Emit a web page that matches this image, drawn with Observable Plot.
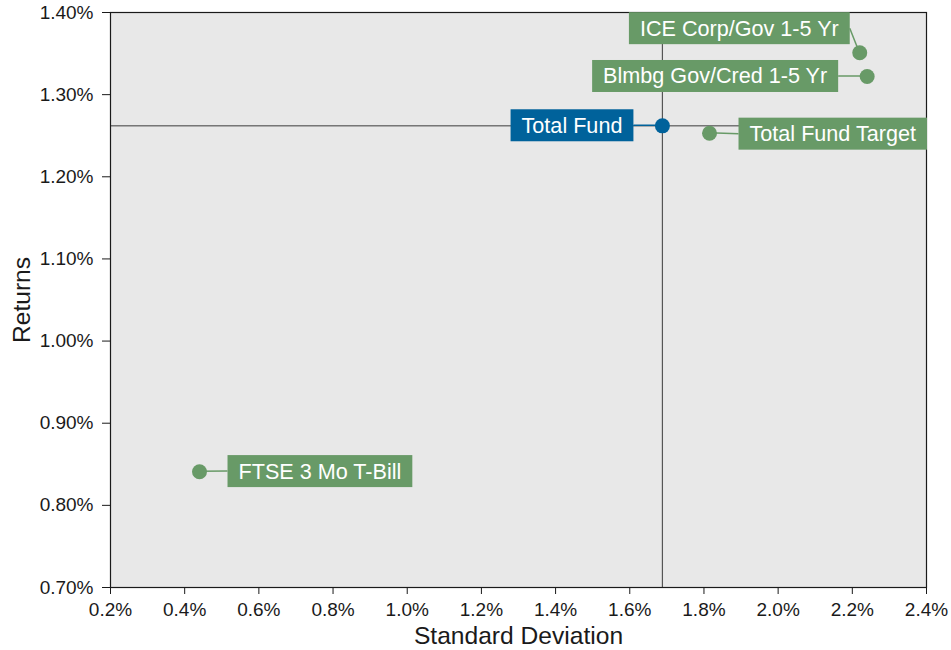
<!DOCTYPE html>
<html><head><meta charset="utf-8">
<script src="https://cdn.jsdelivr.net/npm/d3@7"></script>
<script src="https://cdn.jsdelivr.net/npm/@observablehq/plot@0.6"></script>
<style>body{margin:0;background:#fff}</style>
</head><body><div id="chart"></div>
<script>
// ---- data ----
const names = ["ICE Corp/Gov 1-5 Yr", "Blmbg Gov/Cred 1-5 Yr", "Total Fund", "Total Fund Target", "FTSE 3 Mo T-Bill"];
const stdDev = [2.22, 2.24, 1.688, 1.815, 0.44];       // %
const returns = [1.351, 1.322, 1.262, 1.253, 0.841];   // %
const xTicks = [0.2, 0.4, 0.6, 0.8, 1.0, 1.2, 1.4, 1.6, 1.8, 2.0, 2.2, 2.4];
const yTicks = [0.70, 0.80, 0.90, 1.00, 1.10, 1.20, 1.30, 1.40];
const xTitle = "Standard Deviation";
const yTitle = "Returns";
const highlight = "Total Fund";

// ---- style / layout ----
const GREEN = "#689a67", BLUE = "#00629b";
const FONT = "Liberation Sans, Arial, sans-serif";
const placement = {
  "ICE Corp/Gov 1-5 Yr":   {side: "left",  dx: -21, dy: -24},
  "Blmbg Gov/Cred 1-5 Yr": {side: "left",  dx: -40, dy: 0},
  "Total Fund":            {side: "left",  dx: -40, dy: 0},
  "Total Fund Target":     {side: "right", dx: 40,  dy: 1},
  "FTSE 3 Mo T-Bill":      {side: "right", dx: 39,  dy: 0}
};
const PAD = 11, BOXH = 32;

const data = names.map((name, i) => ({name, sd: stdDev[i], ret: returns[i]}));
const hl = data.find(d => d.name === highlight);
const colorOf = name => name === highlight ? BLUE : GREEN;

const labelMarks = names.map(name => {
  const p = placement[name];
  return Plot.text(data.filter(d => d.name === name), {
    x: "sd", y: "ret", text: "name",
    dx: p.dx, dy: p.dy,
    textAnchor: p.side === "left" ? "end" : "start",
    lineAnchor: "middle",
    fill: "white", fontSize: 21.6, fontFamily: FONT
  });
});

const chart = Plot.plot({
  width: 951, height: 650,
  marginLeft: 110, marginRight: 25, marginTop: 12, marginBottom: 63,
  style: {fontFamily: FONT, fontSize: "19px", color: "#1a1a1a", background: "#fff"},
  x: {domain: [0.2, 2.4], ticks: xTicks, tickFormat: d => d.toFixed(1) + "%", label: null, tickSize: 7, tickPadding: 8},
  y: {domain: [0.70, 1.40], ticks: yTicks, tickFormat: d => d.toFixed(2) + "%", label: null, tickSize: 8, tickPadding: 9},
  marks: [
    Plot.frame({fill: "#e8e8e8"}),
    Plot.ruleY([hl.ret], {stroke: "#3a3a3a", strokeWidth: 1}),
    Plot.ruleX([hl.sd], {stroke: "#555", strokeWidth: 1.2}),
    Plot.frame({stroke: "#1a1a1a", strokeWidth: 1.2}),
    Plot.text([xTitle], {text: d => d, frameAnchor: "bottom", dy: 49, textAnchor: "middle", lineAnchor: "middle", fontSize: 24.6, fill: "#1a1a1a"}),
    Plot.text([yTitle], {text: d => d, frameAnchor: "left", dx: -88, rotate: -90, textAnchor: "middle", lineAnchor: "middle", fontSize: 24.6, fill: "#1a1a1a"}),
    ...labelMarks,
    Plot.dot(data, {x: "sd", y: "ret", r: 7.5, fill: d => colorOf(d.name), stroke: "none"})
  ]
});
document.getElementById("chart").append(chart);

// ---- label boxes & connectors (positions taken from the chart's scales) ----
const xs = chart.scale("x"), ys = chart.scale("y");
const svgRect = chart.getBoundingClientRect();
const texts = Array.from(chart.querySelectorAll("text")).filter(t => t.textContent in placement);
if (texts.length) {
  const ns = "http://www.w3.org/2000/svg";
  const g = document.createElementNS(ns, "g");
  const firstMark = texts[0].parentNode;
  firstMark.parentNode.insertBefore(g, firstMark);
  texts.forEach(t => {
    const name = t.textContent;
    const d = data.find(e => e.name === name);
    const p = placement[name];
    const r = t.getBoundingClientRect();
    const bx = r.left - svgRect.left - PAD;
    const bw = r.width + 2 * PAD;
    const cy = r.top - svgRect.top + r.height / 2;
    const px = xs.apply(d.sd), py = ys.apply(d.ret);
    const ex = p.side === "left" ? bx + bw : bx;
    const line = document.createElementNS(ns, "line");
    line.setAttribute("x1", px); line.setAttribute("y1", py);
    line.setAttribute("x2", ex); line.setAttribute("y2", cy);
    line.setAttribute("stroke", colorOf(name)); line.setAttribute("stroke-width", 1.5);
    g.append(line);
    const rect = document.createElementNS(ns, "rect");
    rect.setAttribute("x", bx); rect.setAttribute("y", cy - BOXH / 2);
    rect.setAttribute("width", bw); rect.setAttribute("height", BOXH);
    rect.setAttribute("fill", colorOf(name));
    g.append(rect);
  });
}
</script>
</body></html>
